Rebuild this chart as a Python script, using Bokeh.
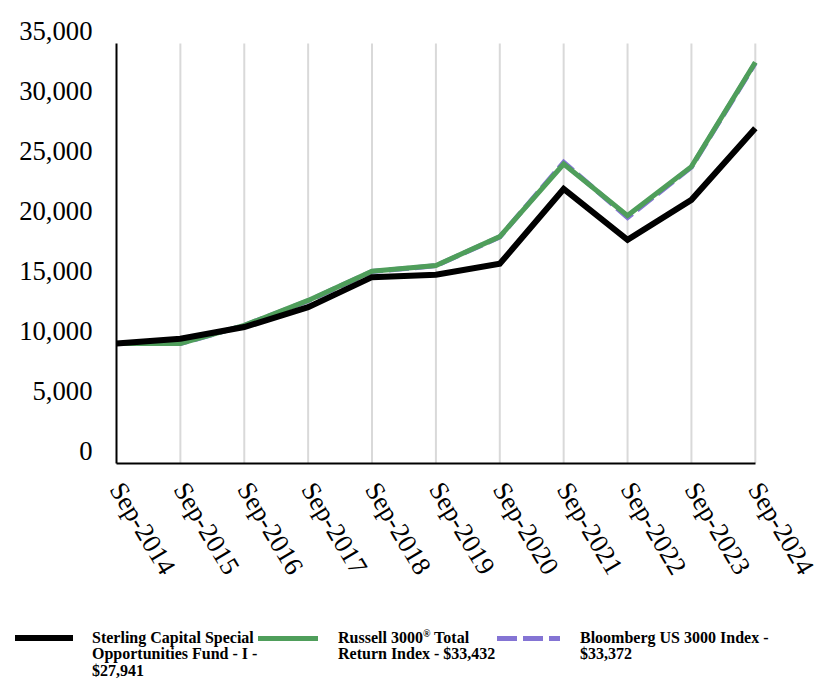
from bokeh.plotting import figure
from bokeh.layouts import column
from bokeh.models import (Range1d, LinearAxis, FixedTicker, NumeralTickFormatter, Div)
from bokeh.embed import file_html
from bokeh.resources import INLINE

# ---- data ----
periods = ["Sep-2014", "Sep-2015", "Sep-2016", "Sep-2017", "Sep-2018", "Sep-2019",
           "Sep-2020", "Sep-2021", "Sep-2022", "Sep-2023", "Sep-2024"]
fund = [10000, 10400, 11370, 13030, 15530, 15730, 16640, 22880, 18640, 21970, 27941]
russell = [10000, 9990, 11510, 13590, 16030, 16500, 18910, 24960, 20660, 24740, 33432]
bloomberg = [10000, 9990, 11500, 13560, 16000, 16480, 18880, 25100, 20500, 24700, 33372]
y_ticks = [0, 5000, 10000, 15000, 20000, 25000, 30000, 35000]
legend_lines = [["Sterling Capital Special", "Opportunities Fund - I -", "$27,941"],
                ["Russell 3000\u00ae Total", "Return Index - $33,432"],
                ["Bloomberg US 3000 Index -", "$33,372"]]

# ---- style constants ----
Y_AXIS_TOP = 35000
Y_END = 36500
LABEL_SHIFT = 1082   # tick labels sit a little above their value
FONT = "Liberation Serif"
COLORS = ["black", "#4f9e5b", "#8474d4"]
WIDTHS = [6, 5, 5]
DASHES = ["solid", "solid", "20 6"]

x = list(range(len(periods)))
series = [fund, russell, bloomberg]

p = figure(width=820, height=620,
           x_range=Range1d(0, len(periods) - 1 + 0.05),
           y_range=Range1d(0, Y_END),
           output_backend="svg", toolbar_location=None,
           min_border_left=116, min_border_right=62,
           min_border_top=25, min_border_bottom=157,
           outline_line_color=None)
p.xgrid.visible = False
p.ygrid.visible = False

# vertical grid lines
p.segment(x0=x[1:], y0=0, x1=x[1:], y1=Y_AXIS_TOP,
          line_color="#d9d9d9", line_width=2, level="underlay")

for i in (2, 1, 0):
    p.line(x, series[i], line_color=COLORS[i], line_width=WIDTHS[i],
           line_dash=DASHES[i], line_join="miter")

# x axis
xa = p.xaxis[0]
xa.ticker = FixedTicker(ticks=x)
xa.major_label_overrides = {i: s for i, s in enumerate(periods)}
xa.major_label_orientation = -1.03
xa.major_label_text_font = FONT
xa.major_label_text_font_size = "20pt"
xa.major_label_text_color = "black"
xa.major_tick_line_color = None
xa.minor_tick_line_color = None
xa.axis_line_width = 2
xa.axis_line_color = "black"
xa.major_label_standoff = 15
xa.bounds = (0, len(periods) - 1)

# main y axis (line only)
ya = p.yaxis[0]
ya.ticker = FixedTicker(ticks=[])
ya.bounds = (0, Y_AXIS_TOP)
ya.major_tick_line_color = None
ya.minor_tick_line_color = None
ya.axis_line_width = 2
ya.axis_line_color = "black"
ya.major_label_standoff = 0

# label axis
p.extra_y_ranges = {"lab": Range1d(-LABEL_SHIFT, Y_END - LABEL_SHIFT)}
la = LinearAxis(y_range_name="lab", ticker=FixedTicker(ticks=y_ticks),
                formatter=NumeralTickFormatter(format="0,0"),
                axis_line_color=None, major_tick_line_color=None,
                minor_tick_line_color=None,
                major_label_text_font=FONT, major_label_text_font_size="20pt",
                major_label_text_color="black", major_label_standoff=18)
p.add_layout(la, "left")

# ---- legend strip below the chart ----
SAMPLE_X = [(15, 73), (258, 318), (497, 560)]
TEXT_X = [92, 338, 580]
ROW0 = 18          # centre of first legend row, px from strip top
LINE_H = 16.5

parts = []
for i in range(3):
    x0, x1 = SAMPLE_X[i]
    w = WIDTHS[i]
    if DASHES[i] == "solid":
        bg = COLORS[i]
    else:
        d, g = DASHES[i].split()
        bg = ("repeating-linear-gradient(to right, %s 0px, %s %spx, transparent %spx, "
              "transparent %spx)" % (COLORS[i], COLORS[i], d, d, int(d) + int(g)))
    parts.append('<div style="position:absolute;left:%dpx;top:%.1fpx;width:%dpx;'
                 'height:%dpx;background:%s;"></div>' % (x0, ROW0 - w / 2, x1 - x0, w, bg))
    html_lines = [s.replace("\u00ae", '<sup style="font-size:10px;line-height:0;'
                                      'vertical-align:6px;">\u00ae</sup>')
                  for s in legend_lines[i]]
    parts.append('<div style="position:absolute;left:%dpx;top:%.1fpx;white-space:nowrap;'
                 'line-height:%spx;">%s</div>' % (TEXT_X[i], ROW0 - LINE_H / 2, LINE_H,
                                                  "<br>".join(html_lines)))

legend_html = ('<div style="position:relative;width:820px;height:64px;'
               'font-family:\'%s\';font-weight:bold;font-size:16px;color:black;">%s</div>'
               % (FONT, "".join(parts)))
legend_div = Div(text=legend_html, width=820, height=64, margin=0)

layout = column(p, legend_div, spacing=0)
open("out.html", "w").write(file_html(layout, INLINE))
